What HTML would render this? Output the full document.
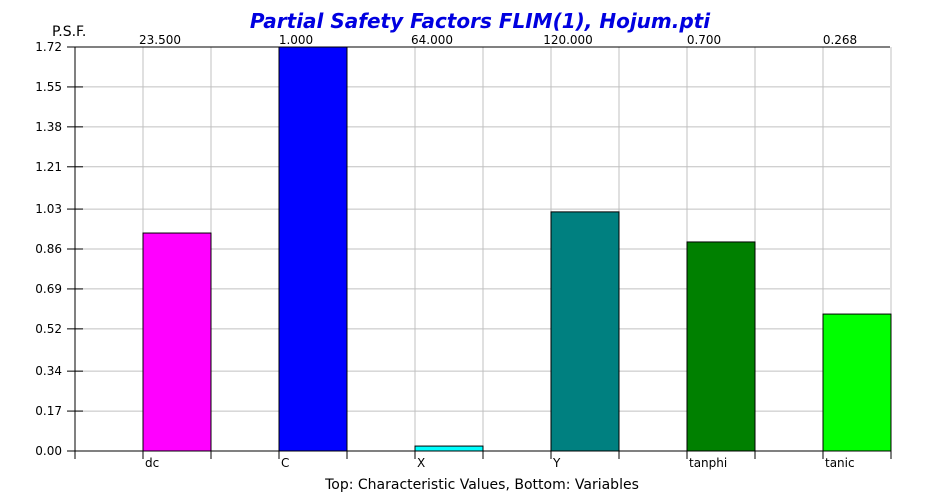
<!DOCTYPE html>
<html><head><meta charset="utf-8"><style>
body{margin:0;background:#fff;width:931px;height:496px;overflow:hidden}
text{font-family:"DejaVu Sans","Liberation Sans",sans-serif}
</style></head><body>
<svg id="chart" width="931" height="496" xmlns="http://www.w3.org/2000/svg">
<text x="480" y="28" text-anchor="middle" font-size="20" font-weight="bold" font-style="italic" fill="#0000e0" font-family="Liberation Sans">Partial Safety Factors FLIM(1), Hojum.pti</text>
<text x="52" y="36" font-size="14" text-anchor="start" fill="#000">P.S.F.</text>
<text x="482" y="489" font-size="14" text-anchor="middle" fill="#000">Top: Characteristic Values, Bottom: Variables</text>
<g id="grid"></g><g id="bars"></g><g id="axes"></g>
</svg>
<script>
const categories=["dc","C","X","Y","tanphi","tanic"];
const values=[0.928,1.72,0.021,1.018,0.890,0.583];
const topLabels=["23.500","1.000","64.000","120.000","0.700","0.268"];
const colors=["#ff00ff","#0000ff","#00ffff","#008080","#008000","#00ff00"];
const yTicks=["0.00","0.17","0.34","0.52","0.69","0.86","1.03","1.21","1.38","1.55","1.72"];
const yMax=1.72;
const X0=75,X1=890,Y0=451,Y1=47,slot=136,barW=68,firstBar=143;
const NS="http://www.w3.org/2000/svg";
function y(v){return Y0-(v/yMax)*(Y0-Y1);}
function bx(i){return firstBar+i*slot;}
function mk(t,a,p){const e=document.createElementNS(NS,t);for(const k in a)e.setAttribute(k,a[k]);p.appendChild(e);return e;}
const grid=document.getElementById('grid'),bars=document.getElementById('bars'),axes=document.getElementById('axes');
yTicks.forEach((t,i)=>{const v=parseFloat(t);const yy=y(v);
 if(i>0){const g=mk('line',{x1:X0,x2:X1,y1:yy,y2:yy,stroke:'#c0c0c0'},grid);
 
 }
 const tk=mk('line',{x1:67,x2:i===0||i===yTicks.length-1?X0:83,y1:yy,y2:yy,stroke:'#000'},axes);
 
 
 const tx=mk('text',{x:62,y:yy+4,'font-size':12,'text-anchor':'end'},axes);tx.textContent=t;
 
 
});
categories.forEach((c,i)=>{const l=bx(i),r=l+barW;
 [l,r].forEach(xx=>{const g=mk('line',{x1:xx,x2:xx,y1:Y1,y2:Y0,stroke:'#c0c0c0'},grid);
 
 
 const tk=mk('line',{x1:xx,x2:xx,y1:Y0,y2:459,stroke:'#000'},axes);
 
 });
 const top=Math.max(y(values[i]),Y1);
 const b=mk('rect',{x:l,y:top,width:barW,height:Y0-top,fill:colors[i],stroke:'#000','stroke-width':1},bars);
 
 
 const bl=mk('text',{x:l+2,y:467,'font-size':12},axes);bl.textContent=c;
 
 
 const tl=mk('text',{x:l+17,y:44,'font-size':12,'text-anchor':'middle'},axes);tl.textContent=topLabels[i];
 
 
});
const ya=mk('line',{x1:X0,x2:X0,y1:Y1,y2:459,stroke:'#000'},axes);


const xa=mk('line',{x1:X0,x2:X1,y1:Y0,y2:Y0,stroke:'#000'},axes);


const ta=mk('line',{x1:X0,x2:X1,y1:Y1,y2:Y1,stroke:'#000'},axes);


</script>
</body></html>
